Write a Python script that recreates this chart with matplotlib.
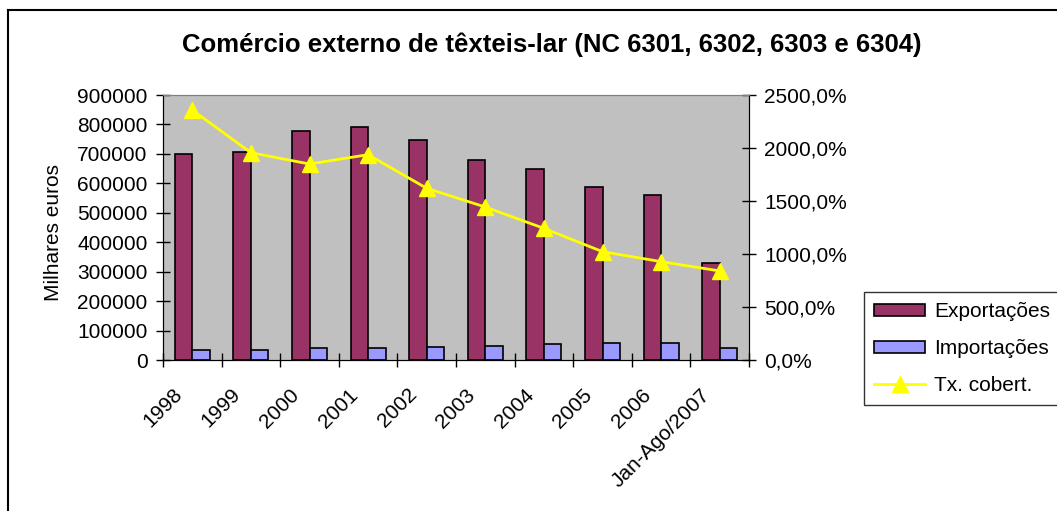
import matplotlib
matplotlib.use("Agg")
import matplotlib.pyplot as plt
from matplotlib.lines import Line2D
from matplotlib.patches import Patch
from matplotlib.ticker import FuncFormatter, MultipleLocator
import numpy as np

plt.rcParams['font.family'] = ['Liberation Sans', 'DejaVu Sans']

# dados (milhares de euros e taxa de cobertura em %)
anos = ['1998', '1999', '2000', '2001', '2002', '2003', '2004', '2005', '2006', 'Jan-Ago/2007']
exportacoes = [700000, 705000, 779000, 791000, 746000, 679000, 648000, 588000, 560000, 331000]
importacoes = [34000, 33000, 41000, 41000, 45000, 46000, 53000, 59000, 58000, 41000]
tx_cobertura = [2358, 1956, 1849, 1937, 1620, 1443, 1242, 1022, 928, 840]

cor_exp = '#993366'
cor_imp = '#9999FF'
cor_tx = '#FFFF00'

fig = plt.figure(figsize=(10.57, 5.11), dpi=100)
ax = fig.add_axes([163 / 1057, 1 - 360 / 511, 586 / 1057, 265 / 511])
ax.set_facecolor('#C0C0C0')

x = np.arange(len(anos))
w = 0.3
ax.bar(x - w / 2, exportacoes, w, color=cor_exp, edgecolor='black', linewidth=1.2, zorder=2)
ax.bar(x + w / 2, importacoes, w, color=cor_imp, edgecolor='black', linewidth=1.2, zorder=2)
ax.set_xlim(-0.5, len(anos) - 0.5)
ax.set_ylim(0, 900000)
ax.yaxis.set_major_locator(MultipleLocator(100000))

# rótulos inclinados ficam um pouco à esquerda do centro da categoria (como no Excel)
ax.set_xticks(x - 0.34)
ax.set_xticklabels(anos, rotation=45, ha='right', rotation_mode='anchor')
ax.set_xticks(np.arange(len(anos) + 1) - 0.5, minor=True)
ax.tick_params(axis='x', which='major', length=0, pad=18, labelsize=15)
ax.tick_params(axis='x', which='minor', length=10, direction='inout', width=1)
ax.tick_params(axis='y', length=10, direction='inout', width=1, labelsize=15, pad=6)
ax.set_ylabel('Milhares euros', fontsize=15)
ax.yaxis.set_label_coords(-0.17, 0.483)

for s in ['left', 'bottom', 'right']:
    ax.spines[s].set_color('black')
ax.spines['top'].set_color('#808080')

ax2 = ax.twinx()
ax2.plot(x, tx_cobertura, color=cor_tx, linewidth=2, marker='^', markersize=12,
         markerfacecolor=cor_tx, markeredgecolor=cor_tx, zorder=3)
ax2.set_ylim(0, 2500)
ax2.yaxis.set_major_locator(MultipleLocator(500))
ax2.yaxis.set_major_formatter(FuncFormatter(lambda v, p: f'{v:.1f}%'.replace('.', ',')))
ax2.tick_params(axis='y', length=10, direction='inout', width=1, labelsize=15, pad=6)
ax2.spines['top'].set_color('#808080')
ax2.spines['right'].set_color('black')

fig.text(552 / 1057, 1 - 45 / 511, 'Comércio externo de têxteis-lar (NC 6301, 6302, 6303 e 6304)',
         ha='center', va='center', fontsize=18.5, fontweight='bold')

handles = [
    Patch(facecolor=cor_exp, edgecolor='black', linewidth=1.2),
    Patch(facecolor=cor_imp, edgecolor='black', linewidth=1.2),
    Line2D([0], [0], color=cor_tx, linewidth=2, marker='^', markersize=12),
]
leg = fig.legend(handles, ['Exportações', 'Importações', 'Tx. cobert.'],
                 loc='upper left', bbox_to_anchor=(864 / 1057, 1 - 292 / 511),
                 fontsize=15, frameon=True, fancybox=False, handlelength=2.45,
                 handleheight=0.5, borderpad=0.5, labelspacing=0.85,
                 handletextpad=0.43, borderaxespad=0)
leg.get_frame().set_edgecolor('black')
leg.get_frame().set_linewidth(1)

# moldura do gráfico
fig.add_artist(Line2D([7.5 / 1057, 1], [1 - 10 / 511, 1 - 10 / 511], color='black', linewidth=1.5))
fig.add_artist(Line2D([7.5 / 1057, 7.5 / 1057], [0, 1 - 10 / 511], color='black', linewidth=1.5))

fig.savefig('out.png', dpi=100)
